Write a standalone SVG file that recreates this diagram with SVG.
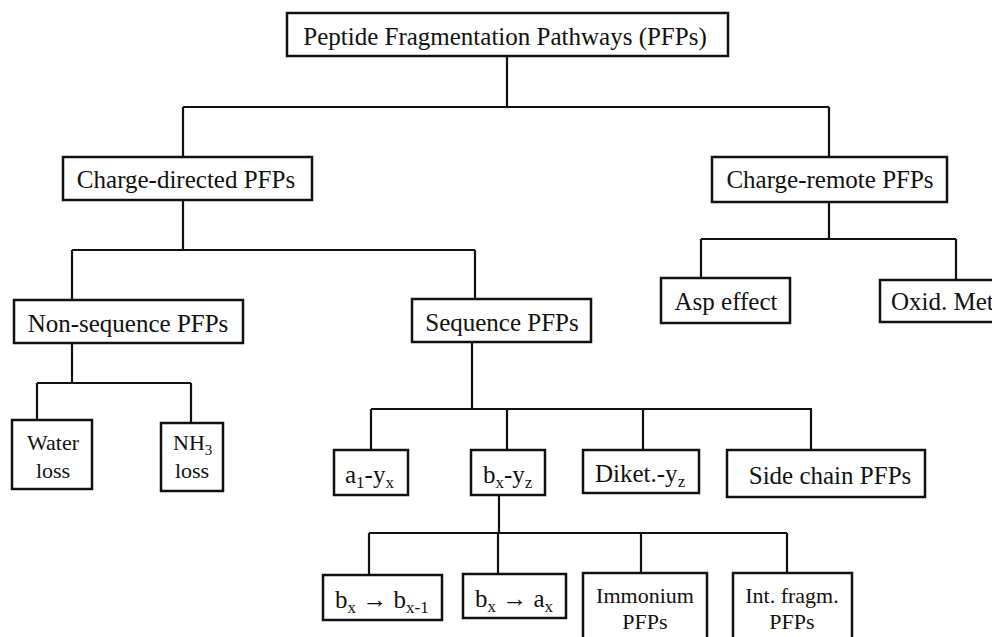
<svg xmlns="http://www.w3.org/2000/svg" width="992" height="637" viewBox="0 0 992 637">
<style>
.box{fill:#fff;stroke:#111;stroke-width:2.5}
.ln{fill:none;stroke:#111;stroke-width:2.2}
text{font-family:"Liberation Serif","Times New Roman",serif;fill:#111;font-size:25px}
.s{font-size:22px}
.m{text-anchor:middle}
</style>
<rect width="992" height="637" fill="#fff"/>
<g id="connectors">
<path class="ln" d="M507 56V107M183 107H829M183 107V157M829 107V157"/>
<path class="ln" d="M183 200V250M72 250H475M72 250V300M475 250V300"/>
<path class="ln" d="M72 343V383M37 383H191M37 383V420M191 383V423"/>
<path class="ln" d="M472 342V409M371 409H812M371 409V450M507 409V450M643 409V450M811 409V450"/>
<path class="ln" d="M499 495V533M369 533H787M369 533V575M498 533V574M641 533V573M787 533V573"/>
<path class="ln" d="M829 202V239M701 239H956M701 239V278M956 239V280"/>
</g>
<g id="n-top"><rect class="box" x="287" y="13" width="441" height="43"/><text class="m" x="505" y="45">Peptide Fragmentation Pathways (PFPs)</text></g>
<g id="n-cd"><rect class="box" x="63" y="157" width="249" height="43"/><text class="m" x="186" y="188">Charge-directed PFPs</text></g>
<g id="n-cr"><rect class="box" x="712" y="157" width="235" height="45"/><text class="m" x="830" y="188">Charge-remote PFPs</text></g>
<g id="n-ns"><rect class="box" x="14" y="300" width="229" height="43"/><text class="m" x="128" y="332">Non-sequence PFPs</text></g>
<g id="n-seq"><rect class="box" x="412" y="299" width="179" height="43"/><text class="m" x="502" y="331">Sequence PFPs</text></g>
<g id="n-asp"><rect class="box" x="661" y="278" width="129" height="45"/><text class="m" x="726" y="310">Asp effect</text></g>
<g id="n-oxid"><rect class="box" x="880" y="280" width="130" height="42"/><text x="891" y="310" font-size="23">Oxid. Met</text></g>
<g id="n-water"><rect class="box" x="12" y="420" width="80" height="69"/><text class="s m" x="53" y="450">Water</text><text class="s m" x="53" y="478">loss</text></g>
<g id="n-nh3"><rect class="box" x="161" y="423" width="62" height="68"/><text class="s" x="173" y="450">NH<tspan font-size="15" dy="5">3</tspan></text><text class="s m" x="192" y="478">loss</text></g>
<g id="n-a1"><rect class="box" x="334" y="450" width="74" height="45"/><text x="345" y="483">a<tspan font-size="17" dy="5">1</tspan><tspan dy="-5">-y</tspan><tspan font-size="17" dy="5">x</tspan></text></g>
<g id="n-bx"><rect class="box" x="471" y="450" width="74" height="45"/><text x="483" y="483">b<tspan font-size="17" dy="5">x</tspan><tspan dy="-5">-y</tspan><tspan font-size="17" dy="5">z</tspan></text></g>
<g id="n-diket"><rect class="box" x="583" y="450" width="116" height="43"/><text x="595" y="482">Diket.-y<tspan font-size="17" dy="5">z</tspan></text></g>
<g id="n-side"><rect class="box" x="727" y="450" width="198" height="47"/><text class="m" x="830" y="484">Side chain PFPs</text></g>
<g id="n-bb"><rect class="box" x="323" y="575" width="119" height="45"/><text x="335" y="608">b<tspan font-size="17" dy="5">x</tspan><tspan dy="-5"> → b</tspan><tspan font-size="17" dy="5">x-1</tspan></text></g>
<g id="n-ba"><rect class="box" x="463" y="574" width="103" height="44"/><text x="475" y="607">b<tspan font-size="17" dy="5">x</tspan><tspan dy="-5"> → a</tspan><tspan font-size="17" dy="5">x</tspan></text></g>
<g id="n-imm"><rect class="box" x="583" y="573" width="124" height="75"/><text class="s m" x="645" y="603">Immonium</text><text class="s m" x="645" y="629">PFPs</text></g>
<g id="n-int"><rect class="box" x="733" y="573" width="119" height="75"/><text class="s m" x="792" y="603">Int. fragm.</text><text class="s m" x="792" y="629">PFPs</text></g>
</svg>
